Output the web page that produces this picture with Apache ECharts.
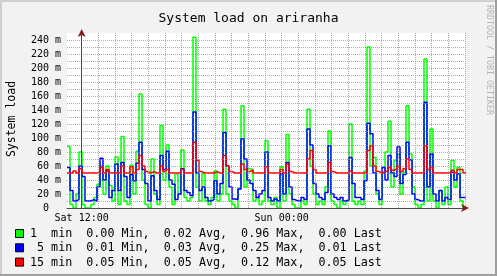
<!DOCTYPE html>
<html><head><meta charset="utf-8">
<script src="https://cdn.jsdelivr.net/npm/echarts@6/dist/echarts.min.js"></script>
<style>html,body{margin:0;padding:0;background:#f2f2f2}#c{width:497px;height:276px}</style>
</head><body><div id="c"></div>
<script>
// ---------- text ----------
const chartTitle = 'System load on ariranha';
const yAxisName = 'System load';
const watermark = 'RRDTOOL / TOBI OETIKER';

// ---------- time axis (hours relative to Sat 12:00) ----------
const startHour = -0.88;          // first sample ~ Sat 11:07
const stepHours = 0.18;           // sample spacing
const xMin = -0.88, xMax = 23.0;
const xGridHours = [0,1,2,3,4,5,6,7,8,9,10,11,12,13,14,15,16,17,18,19,20,21,22,23];
const xLabelHours = [0, 12];
const xLabelTexts = ['Sat 12:00', 'Sun 00:00'];

// ---------- value axis (milli-load) ----------
const yMax = 250;
const yGridStep = 10;
const yTickValues = [0, 20, 40, 60, 80, 100, 120, 140, 160, 180, 200, 220, 240];
const yTickLabels = ['0  ', '20 m', '40 m', '60 m', '80 m', '100 m', '120 m', '140 m', '160 m', '180 m', '200 m', '220 m', '240 m'];

// ---------- series (m) ----------
const load1 = [
 88,5,0,20,80,5,0,0,5,15,
 34,60,20,60,32,10,73,5,102,10,
 5,61,20,81,163,40,5,0,70,20,
 5,118,40,90,30,5,49,20,83,15,
 10,15,244,30,10,49,10,5,15,53,
 10,20,141,20,10,5,0,28,146,30,
 56,55,10,15,5,10,96,10,5,15,
 0,59,10,105,20,5,0,0,10,5,
 141,60,20,5,10,5,30,110,10,5,
 0,10,5,10,120,10,5,10,5,53,
 230,60,72,20,5,50,80,124,30,68,
 77,20,51,146,77,30,5,0,5,213,
 10,113,10,0,25,5,30,5,68,30,
 58,10,0
];
const load5 = [
 58,25,10,12,60,45,10,10,12,10,
 30,71,40,53,15,25,63,25,65,45,
 15,48,39,64,94,55,35,10,46,25,
 12,75,55,81,40,34,12,20,56,25,
 22,18,137,50,25,30,15,10,12,39,
 20,35,108,60,30,13,12,27,99,70,
 40,35,25,15,20,25,80,15,10,13,
 10,49,20,65,30,12,10,10,15,12,
 113,90,35,20,15,12,22,89,20,15,
 12,15,10,12,72,35,15,15,12,39,
 121,106,50,25,12,58,40,75,50,45,
 87,35,48,94,69,20,12,10,10,151,
 30,77,20,10,25,10,15,12,51,40,
 49,15,15
];
const load15 = [
 50,50,53,50,56,50,50,50,50,50,
 50,58,50,55,50,50,50,50,60,50,
 50,59,50,55,75,60,52,50,52,50,
 50,60,52,55,50,50,50,50,55,50,
 50,50,94,68,52,50,50,50,50,52,
 50,50,75,60,52,50,50,50,63,55,
 52,54,50,50,50,50,59,50,50,50,
 50,55,50,63,52,50,50,50,50,50,
 70,82,55,50,50,50,50,65,52,50,
 50,50,50,50,53,50,50,50,50,50,
 82,89,60,52,50,52,53,58,54,56,
 60,52,56,70,55,50,50,50,50,89,
 55,58,50,50,50,50,50,50,54,50,
 55,55,50
];

// ---------- legend ----------
const legendLabels = ['1  min', ' 5 min', '15 min'];
const seriesColors = ['#00ff00', '#0000ff', '#ff0000'];
const statMin = ['0.00', '0.01', '0.05'];
const statAvg = ['0.02', '0.03', '0.05'];
const statMax = ['0.96', '0.25', '0.12'];
const statLast = ['0.00', '0.01', '0.05'];

// ---------- build ----------
function toPoints(vals) {
  const pts = vals.map((v, i) => [startHour + i * stepHours, v]);
  pts.push([startHour + vals.length * stepHours, vals[vals.length - 1]]);
  return pts;
}
const MONO = 'DejaVu Sans Mono';
const W = 497, H = 276;
const GRID = 'rgba(143,143,143,0.75)';
const MGRID = 'rgba(222,79,79,0.6)';
const ARROW = '#801f1f';
const AXIS = '#4a4a4a';

const allSeries = [load1, load5, load15];
const series = allSeries.map((vals, k) => ({
  type: 'line', step: 'end', showSymbol: false, symbol: 'none',
  data: toPoints(vals), z: 2 + k, clip: true, animation: false,
  lineStyle: { color: seriesColors[k], width: 1.5 }
}));

const graphic = [];
// frame shading
graphic.push({ type: 'line', shape: { x1: 0, y1: 1, x2: W, y2: 1 }, style: { stroke: '#cfcfcf', lineWidth: 2 }, silent: true });
graphic.push({ type: 'line', shape: { x1: 1, y1: 0, x2: 1, y2: H }, style: { stroke: '#cfcfcf', lineWidth: 2 }, silent: true });
graphic.push({ type: 'line', shape: { x1: 0, y1: H - 1, x2: W, y2: H - 1 }, style: { stroke: '#9e9e9e', lineWidth: 2 }, silent: true });
graphic.push({ type: 'line', shape: { x1: W - 1, y1: 0, x2: W - 1, y2: H }, style: { stroke: '#9e9e9e', lineWidth: 2 }, silent: true });
// watermark
graphic.push({ type: 'text', x: 489, y: 5, rotation: -Math.PI / 2,
  style: { text: watermark, font: '8.3px "' + MONO + '"', fill: '#b4b4b4', align: 'left', verticalAlign: 'middle' }, silent: true });
// y axis name
graphic.push({ type: 'text', x: 12, y: 119, rotation: Math.PI / 2,
  style: { text: yAxisName, font: '11.5px "' + MONO + '"', fill: '#000', align: 'center', verticalAlign: 'middle' }, silent: true });
// legend
const rowY = [234, 248.3, 262.6];
legendLabels.forEach((lab, k) => {
  graphic.push({ type: 'rect', shape: { x: 15.5, y: rowY[k] - 4.5, width: 8, height: 8 },
    style: { fill: seriesColors[k], stroke: '#000', lineWidth: 1 }, silent: true });
  const line = lab + '  ' + statMin[k] + ' Min,  ' + statAvg[k] + ' Avg,  ' + statMax[k] + ' Max,  ' + statLast[k] + ' Last';
  graphic.push({ type: 'text', x: 30, y: rowY[k],
    style: { text: line, font: '11.7px "' + MONO + '"', fill: '#000', align: 'left', verticalAlign: 'middle' }, silent: true });
});

const chart = echarts.init(document.getElementById('c'), null, { renderer: 'canvas' });
chart.setOption({
  animation: false,
  backgroundColor: '#f2f2f2',
  title: { text: chartTitle, left: 'center', top: 7,
    textStyle: { fontFamily: MONO, fontSize: 13, fontWeight: 'normal', color: '#000' } },
  grid: { left: 67, right: 32, top: 33, bottom: 68, show: true, backgroundColor: '#ffffff', borderWidth: 0 },
  xAxis: [{
    type: 'value', min: xMin, max: xMax, z: 10,
    axisLine: { show: true, lineStyle: { color: AXIS, width: 1 } },
    axisTick: { show: false, customValues: xGridHours },
    axisLabel: { customValues: xLabelHours, margin: 5, fontFamily: MONO, fontSize: 10, color: '#000',
      formatter: v => { const i = xLabelHours.indexOf(Math.round(v)); return i >= 0 ? xLabelTexts[i] : ''; } },
    splitLine: { show: true, lineStyle: { color: [MGRID, GRID, GRID, GRID, GRID, GRID], type: [1, 1], width: 1 } }
  }, {
    type: 'value', min: xMin, max: xMax, position: 'bottom', z: 11,
    axisLine: { show: true, symbol: ['none', 'arrow'], symbolSize: [6, 8], symbolOffset: [0, 4],
      lineStyle: { color: ARROW, width: 0 } },
    axisTick: { show: false }, axisLabel: { show: false }, splitLine: { show: false }
  }],
  yAxis: [{
    type: 'value', min: 0, max: yMax, interval: yGridStep, z: 10,
    axisLine: { show: true, lineStyle: { color: AXIS, width: 1 } },
    axisTick: { show: false },
    axisLabel: { margin: 6, fontFamily: MONO, fontSize: 10, color: '#000',
      formatter: v => { const i = yTickValues.indexOf(v); return i >= 0 ? yTickLabels[i] : ''; } },
    splitLine: { show: true, showMaxLine: false, lineStyle: { color: [MGRID, GRID], type: [1, 1], width: 1 } }
  }, {
    type: 'value', min: 0, max: yMax, position: 'left', z: 11,
    axisLine: { show: true, symbol: ['none', 'arrow'], symbolSize: [6, 8], symbolOffset: [0, 4],
      lineStyle: { color: ARROW, width: 0 } },
    axisTick: { show: false }, axisLabel: { show: false }, splitLine: { show: false }
  }],
  series: series,
  graphic: graphic
});
</script>
</body></html>
